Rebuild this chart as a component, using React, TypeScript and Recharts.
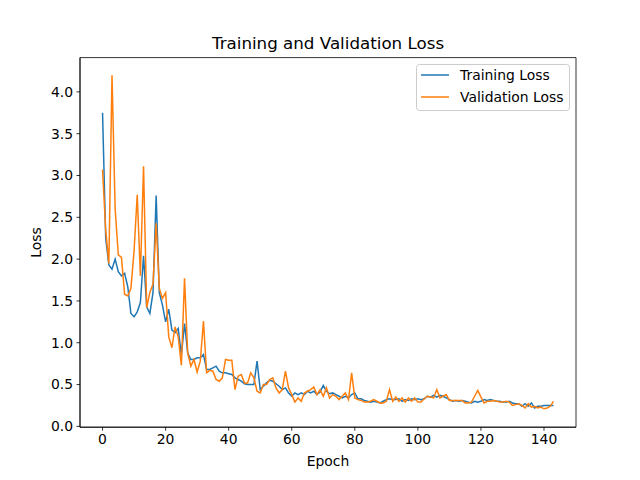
import React from "react";
import { LineChart, Line, XAxis, YAxis, ReferenceArea } from "recharts";

// Loss per epoch (epochs 0..143).
const trainingLoss = [
  3.75, 2.25, 1.93, 1.88, 2.0, 1.85, 1.8, 1.83, 1.67, 1.35,
  1.31, 1.37, 1.48, 2.04, 1.43, 1.35, 1.6, 2.76, 1.6, 1.45,
  1.25, 1.4, 1.15, 1.12, 1.17, 0.85, 1.23, 0.88, 0.8, 0.8,
  0.82, 0.82, 0.86, 0.68, 0.68, 0.7, 0.72, 0.66, 0.64, 0.64,
  0.63, 0.62, 0.58, 0.56, 0.54, 0.51, 0.5, 0.5, 0.5, 0.78,
  0.44, 0.48, 0.52, 0.55, 0.54, 0.51, 0.48, 0.44, 0.46, 0.4,
  0.36, 0.4, 0.38, 0.4, 0.38, 0.42, 0.4, 0.42, 0.38, 0.41,
  0.49, 0.42, 0.39, 0.4, 0.38, 0.36, 0.34, 0.36, 0.34, 0.38,
  0.4, 0.33, 0.33, 0.31, 0.3, 0.29, 0.3, 0.29, 0.28, 0.3,
  0.32, 0.33, 0.32, 0.32, 0.33, 0.3, 0.32, 0.31, 0.33, 0.32,
  0.33, 0.32, 0.33, 0.36, 0.35, 0.37, 0.35, 0.37, 0.36, 0.34,
  0.32, 0.3, 0.31, 0.3, 0.31, 0.3, 0.29, 0.28, 0.3, 0.29,
  0.3, 0.32, 0.31, 0.32, 0.31, 0.3, 0.3, 0.29, 0.29, 0.3,
  0.28, 0.27, 0.27, 0.24, 0.27, 0.24, 0.28, 0.22, 0.24, 0.24,
  0.25, 0.25, 0.25, 0.25,
];

const validationLoss = [
  3.07, 2.35, 1.95, 4.2, 2.6, 2.05, 2.02, 1.58, 1.56, 1.65,
  2.1, 2.77, 1.8, 3.11, 1.42, 1.6, 1.7, 2.43, 1.65, 1.53,
  1.6, 1.07, 0.94, 1.19, 1.07, 0.73, 1.77, 0.88, 0.72, 0.8,
  0.65, 0.78, 1.26, 0.64, 0.67, 0.66, 0.56, 0.54, 0.58, 0.8,
  0.79, 0.79, 0.44, 0.6, 0.62, 0.52, 0.52, 0.64, 0.58, 0.42,
  0.4, 0.5, 0.5, 0.56, 0.58, 0.46, 0.4, 0.44, 0.66, 0.46,
  0.38, 0.29, 0.34, 0.3, 0.4, 0.42, 0.44, 0.47, 0.38, 0.44,
  0.36, 0.46, 0.34, 0.38, 0.36, 0.32, 0.36, 0.4, 0.32, 0.64,
  0.34, 0.32, 0.31, 0.29, 0.29, 0.3, 0.32, 0.3, 0.28, 0.28,
  0.3, 0.44, 0.3, 0.35, 0.3, 0.34, 0.29, 0.34, 0.3, 0.34,
  0.29, 0.29, 0.33, 0.36, 0.35, 0.34, 0.44, 0.34, 0.36, 0.38,
  0.31, 0.31, 0.31, 0.31, 0.31, 0.28, 0.28, 0.29, 0.36, 0.43,
  0.35, 0.28, 0.3, 0.3, 0.31, 0.3, 0.29, 0.29, 0.3, 0.29,
  0.25, 0.26, 0.27, 0.25, 0.22, 0.27, 0.23, 0.24, 0.22, 0.23,
  0.21, 0.22, 0.24, 0.3,
];

const xTicks = [0, 20, 40, 60, 80, 100, 120, 140];
const yTicks = [0, 0.5, 1, 1.5, 2, 2.5, 3, 3.5, 4];

const X_DOMAIN: [number, number] = [-7.15, 150.15];
const Y_DOMAIN: [number, number] = [-0.01, 4.41];

const FONT = "'DejaVu Sans', sans-serif";
const BLUE = "#1f77b4";
const ORANGE = "#ff7f0e";

const SERIES = [
  { key: "train", label: "Training Loss", color: BLUE },
  { key: "val", label: "Validation Loss", color: ORANGE },
];

// matplotlib-style legend box (upper right, rounded light-grey frame)
function MplLegend() {
  return (
    <svg width={155} height={48} style={{ display: "block" }}>
      <rect
        x={0.5}
        y={0.5}
        width={153}
        height={46}
        rx={3}
        fill="#fff"
        fillOpacity={0.8}
        stroke="#cccccc"
      />
      {SERIES.map((s, i) => (
        <g key={s.key}>
          <line
            x1={5}
            x2={33}
            y1={11 + i * 22}
            y2={11 + i * 22}
            stroke={s.color}
            strokeWidth={1.5}
          />
          <text
            x={44}
            y={16 + i * 22}
            fontFamily={FONT}
            fontSize={13.9}
            fill="#000"
          >
            {s.label}
          </text>
        </g>
      ))}
    </svg>
  );
}

export default function App() {
  const data = trainingLoss.map((t, i) => ({
    epoch: i,
    train: t,
    val: validationLoss[i],
  }));

  const tickStyle = { fontFamily: FONT, fontSize: 13.9, fill: "#000" };

  return (
    <div
      style={{
        position: "absolute",
        left: 0,
        top: 0,
        width: 640,
        height: 480,
        background: "#fff",
        fontFamily: FONT,
      }}
    >
      <div
        style={{
          position: "absolute",
          left: 80,
          width: 496,
          top: 33,
          textAlign: "center",
          fontSize: 16.7,
          color: "#000",
        }}
      >
        Training and Validation Loss
      </div>
      <LineChart
        width={640}
        height={480}
        data={data}
        margin={{ top: 57.6, right: 64, bottom: 22.8, left: 30 }}
      >
        <XAxis
          dataKey="epoch"
          type="number"
          domain={X_DOMAIN}
          allowDataOverflow
          ticks={xTicks}
          tick={tickStyle}
          tickSize={3.5}
          tickMargin={3.5}
          height={30}
          axisLine={{ stroke: "#000", strokeWidth: 0.8 }}
          tickLine={{ stroke: "#000", strokeWidth: 0.8 }}
          label={{
            value: "Epoch",
            position: "insideBottom",
            offset: -9,
            style: { fontFamily: FONT, fontSize: 13.9, fill: "#000" },
          }}
        />
        <YAxis
          type="number"
          domain={Y_DOMAIN}
          allowDataOverflow
          ticks={yTicks}
          tick={tickStyle}
          tickFormatter={(v: number) => v.toFixed(1)}
          tickSize={3.5}
          tickMargin={3.5}
          width={50}
          axisLine={{ stroke: "#000", strokeWidth: 0.8 }}
          tickLine={{ stroke: "#000", strokeWidth: 0.8 }}
          label={{
            value: "Loss",
            angle: -90,
            position: "insideLeft",
            offset: 6,
            style: {
              fontFamily: FONT,
              fontSize: 13.9,
              fill: "#000",
              textAnchor: "middle",
            },
          }}
        />
        <ReferenceArea
          x1={X_DOMAIN[0]}
          x2={X_DOMAIN[1]}
          y1={Y_DOMAIN[0]}
          y2={Y_DOMAIN[1]}
          fill="none"
          stroke="#000"
          strokeWidth={0.8}
          ifOverflow="visible"
        />
        {SERIES.map((s) => (
          <Line
            key={s.key}
            type="linear"
            dataKey={s.key}
            name={s.label}
            stroke={s.color}
            strokeWidth={1.5}
            dot={false}
            isAnimationActive={false}
          />
        ))}
      </LineChart>
      <div style={{ position: "absolute", left: 416, top: 64 }}>
        <MplLegend />
      </div>
    </div>
  );
}
